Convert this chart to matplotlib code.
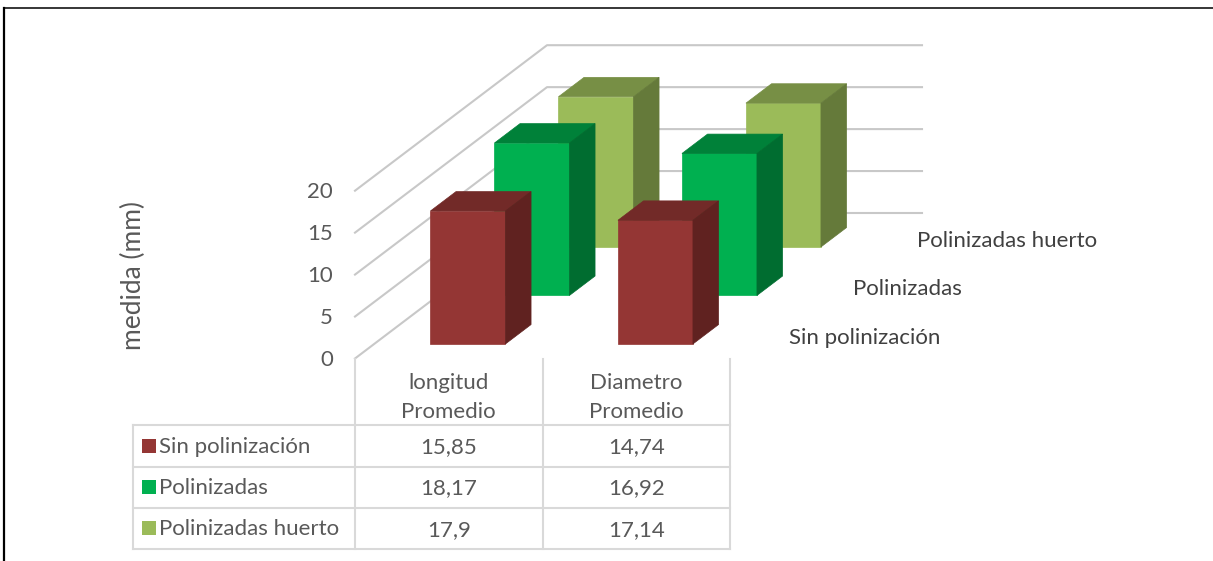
import matplotlib
matplotlib.use("Agg")
import matplotlib.pyplot as plt
from matplotlib.patches import Polygon

# data
categorias = ["longitud\nPromedio", "Diametro\nPromedio"]
series = ["Sin polinización", "Polinizadas", "Polinizadas huerto"]
sin_pol = [15.85, 14.74]
polinizadas = [18.17, 16.92]
huerto = [17.9, 17.14]
etiquetas = [["15,85", "14,74"], ["18,17", "16,92"], ["17,9", "17,14"]]
ticks = [0, 5, 10, 15, 20]

colores = ["#943634", "#00b050", "#9bbb59"]
tapas = ["#722a28", "#008139", "#778f45"]
lados = ["#602220", "#006d30", "#657a3a"]
gris = "#d9d9d9"
texto = "#595959"

# oblique projection, in pixels
X0, Y0 = 355, 358.5
CAT = 187.5
DX, DY = 192, -145.5
K = 8.39
FS = 16


def proy(c, s, v):
    # c categories along the front, s series along the depth, v value
    return (X0 + c * CAT + s / 3 * DX, Y0 + s / 3 * DY - v * K)


plt.rcParams["font.family"] = ["Lato", "DejaVu Sans"]
fig = plt.figure(figsize=(12.13, 5.61), dpi=100)
ax = fig.add_axes([0, 0, 1, 1])
ax.set_xlim(0, 1213)
ax.set_ylim(561, 0)
ax.axis("off")

# frame of the picture
ax.plot([3.5, 3.5], [561, 7.5], color="black", lw=1.6)
ax.plot([3.5, 1213], [7.5, 7.5], color="black", lw=1.1)

# walls
for t in ticks:
    a = proy(0, 0, t)
    b = proy(0, 3, t)
    c = proy(2, 3, t)
    ax.plot([a[0], b[0], c[0]], [a[1], b[1], c[1]], color="#c8c8c8", lw=1.5, zorder=1)
    ax.text(a[0] - 22, a[1] + 1.5, str(t), ha="right", va="center", color=texto, fontsize=FS)

# bars, back to front
z = 2
for s, vals in reversed(list(enumerate([sin_pol, polinizadas, huerto]))):
    for c, v in enumerate(vals):
        c0, c1 = c + 0.3, c + 0.7
        s0, s1 = s + 0.3, s + 0.7
        frente = [proy(c0, s0, 0), proy(c1, s0, 0), proy(c1, s0, v), proy(c0, s0, v)]
        tapa = [proy(c0, s0, v), proy(c1, s0, v), proy(c1, s1, v), proy(c0, s1, v)]
        lado = [proy(c1, s0, 0), proy(c1, s1, 0), proy(c1, s1, v), proy(c1, s0, v)]
        ax.add_patch(Polygon(frente, fc=colores[s], ec=colores[s], lw=0.5, zorder=z))
        ax.add_patch(Polygon(tapa, fc=tapas[s], ec=tapas[s], lw=0.5, zorder=z))
        ax.add_patch(Polygon(lado, fc=lados[s], ec=lados[s], lw=0.5, zorder=z))
        z += 1

# depth axis labels
for s, nombre in enumerate(series):
    p = proy(2, s + 0.5, 0)
    ax.text(p[0] + 27, p[1] + 3.5, nombre, ha="left", va="center", color="#404040", fontsize=FS)

ax.text(133, 275, "medida (mm)", rotation=90, ha="center", va="center", color=texto, fontsize=19)

# data table
filas = [425, 466.5, 507.5, 549]
izq = 133
for y in filas:
    ax.plot([izq, X0 + 2 * CAT], [y, y], color=gris, lw=1.5, zorder=1)
ax.plot([izq, izq], [filas[0], filas[-1]], color=gris, lw=1.5, zorder=1)
for c in range(3):
    x = X0 + c * CAT
    ax.plot([x, x], [Y0, filas[-1]], color=gris, lw=1.5, zorder=1)

for c, nombre in enumerate(categorias):
    ax.text(X0 + (c + 0.5) * CAT, 397.5, nombre, ha="center", va="center", color=texto,
            fontsize=FS, linespacing=1.55)

for i, nombre in enumerate(series):
    yc = (filas[i] + filas[i + 1]) / 2
    ax.add_patch(Polygon([(142, yc - 7), (156, yc - 7), (156, yc + 7), (142, yc + 7)],
                         fc=colores[i], ec="none", zorder=3))
    ax.text(159, yc + 1, nombre, ha="left", va="center", color=texto, fontsize=FS)
    for c in range(2):
        ax.text(X0 + (c + 0.5) * CAT, yc + 1.5, etiquetas[i][c], ha="center", va="center",
                color=texto, fontsize=FS)

fig.savefig("out.png", dpi=100)
